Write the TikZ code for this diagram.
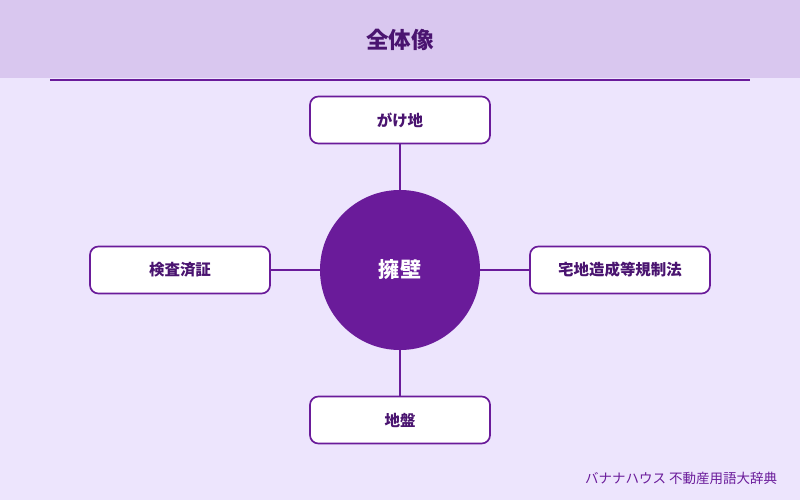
\documentclass[tikz,border=0pt]{standalone}
\usepackage{fontspec}
\setmainfont{Noto Sans CJK JP}
\definecolor{bgpurple}{HTML}{EDE5FD}
\definecolor{headpurple}{HTML}{D9C7EF}
\definecolor{darkpurple}{HTML}{4A1470}
\definecolor{mainpurple}{HTML}{6A1B9A}
\tikzset{
  topic/.style={rectangle, draw=mainpurple, line width=1.2pt, fill=white, rounded corners=6pt,
    minimum width=4.5cm, minimum height=1.175cm, text=darkpurple, font=\bfseries\fontsize{11}{13}\selectfont},
  hub/.style={circle, fill=mainpurple, minimum size=4cm, inner sep=0pt, text=white,
    font=\bfseries\fontsize{15}{18}\selectfont},
  link/.style={draw=mainpurple, line width=1.2pt}
}
\begin{document}
\begin{tikzpicture}[x=0.025cm, y=-0.025cm]
    % Background and header
    \fill[bgpurple] (0,0) rectangle (800,500);
    \fill[headpurple] (0,0) rectangle (800,78);
    \draw[mainpurple, line width=1.2pt] (50,80) -- (750,80);
    \node[text=darkpurple, font=\bfseries\fontsize{16}{19}\selectfont] (title) at (400,40) {全体像};
    % Place nodes
    \node[hub] (center) at (400,270) {擁壁};
    \node[topic] (top) at (400,120) {がけ地};
    \node[topic] (left) at (180,270) {検査済証};
    \node[topic] (right) at (620,270) {宅地造成等規制法};
    \node[topic] (bottom) at (400,420) {地盤};
    % Draw edges
    \path[link] (top) -- (center);
    \path[link] (left) -- (center);
    \path[link] (right) -- (center);
    \path[link] (bottom) -- (center);
    \node[text=mainpurple, font=\fontsize{9.6}{11}\selectfont, anchor=east] (credit) at (782,478) {バナナハウス 不動産用語大辞典};
\end{tikzpicture}
\end{document}
